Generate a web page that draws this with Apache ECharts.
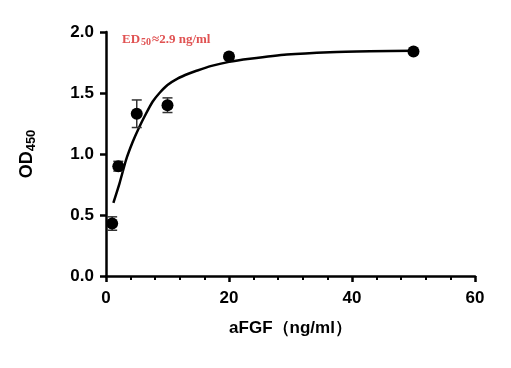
<!DOCTYPE html>
<html><head><meta charset="utf-8">
<script src="https://cdn.jsdelivr.net/npm/echarts@6/dist/echarts.min.js"></script>
<style>html,body{margin:0;padding:0;background:#fff}#c{width:511px;height:368px}</style>
</head><body><div id="c"></div>
<script>
const conc = [1, 2, 5, 10, 20, 50];
const odMean = [0.43, 0.90, 1.33, 1.40, 1.80, 1.84];
const odErr = [0.055, 0.04, 0.113, 0.06, 0.01, 0.01];
const fitX = [1.2, 2.2, 3.25, 4.35, 5.4, 6.5, 7.6, 8.7, 10.0, 11.7, 13.5, 14.6, 17.0, 20.0, 23.4, 29.4, 36.4, 42.9, 50];
const fitY = [0.60, 0.76, 0.95, 1.10, 1.22, 1.33, 1.43, 1.50, 1.565, 1.62, 1.66, 1.68, 1.72, 1.755, 1.78, 1.815, 1.835, 1.843, 1.847];
const xTicks = [0, 20, 40, 60];
const yTicks = [0, 0.5, 1.0, 1.5, 2.0];

const chart = echarts.init(document.getElementById('c'));
const axisFont = 'Liberation Sans, Arial, sans-serif';
chart.setOption({
  animation: false,
  grid: {left: 106, right: 36, top: 32, bottom: 92},
  xAxis: {
    type: 'value', min: xTicks[0], max: xTicks[xTicks.length-1], interval: 20,
    name: 'aFGF（ng/ml）', nameLocation: 'middle', nameGap: 44,
    nameTextStyle: {fontFamily: axisFont, fontWeight: 'bold', fontSize: 17, color: '#000'},
    axisLine: {lineStyle: {color: '#000', width: 2.5}},
    axisTick: {length: 6, lineStyle: {color: '#000', width: 2.5}},
    minorTick: {show: true, splitNumber: 5, length: 4, lineStyle: {color: '#000', width: 2}},
    axisLabel: {fontFamily: axisFont, fontWeight: 'bold', fontSize: 17, color: '#000', margin: 14},
    splitLine: {show: false}
  },
  yAxis: {
    type: 'value', min: yTicks[0], max: yTicks[yTicks.length-1], interval: 0.5,
    name: '{a|OD}{s|450}', nameLocation: 'middle', nameGap: 68, nameRotate: 90,
    nameTextStyle: {rich: {
      a: {fontFamily: axisFont, fontWeight: 'bold', fontSize: 18, color: '#000'},
      s: {fontFamily: axisFont, fontWeight: 'bold', fontSize: 13, color: '#000', verticalAlign: 'bottom', padding: [9,0,0,0]}
    }},
    axisLine: {lineStyle: {color: '#000', width: 2.5}},
    axisTick: {length: 6, lineStyle: {color: '#000', width: 2.5}},
    axisLabel: {fontFamily: axisFont, fontWeight: 'bold', fontSize: 17, color: '#000', margin: 12,
      formatter: v => v.toFixed(1)},
    splitLine: {show: false}
  },
  graphic: [{
    type: 'text', left: 122, top: 33,
    style: {
      text: '{a|ED}{s|50}{a|≈2.9 ng/ml}',
      rich: {
        a: {fontFamily: 'Liberation Serif, Times New Roman, serif', fontWeight: 'bold', fontSize: 13, fill: '#e05252'},
        s: {fontFamily: 'Liberation Serif, Times New Roman, serif', fontWeight: 'bold', fontSize: 10, fill: '#e05252', padding: [5,1,0,1]}
      }
    }
  }],
  series: [
    {
      type: 'line', data: fitX.map((x, i) => [x, fitY[i]]), smooth: 0.2, showSymbol: false,
      lineStyle: {color: '#000', width: 2.5}, z: 2
    },
    {
      type: 'custom', z: 3,
      data: conc.map((x, i) => [x, odMean[i] - odErr[i], odMean[i] + odErr[i]]),
      renderItem: (params, api) => {
        const lo = api.coord([api.value(0), api.value(1)]);
        const hi = api.coord([api.value(0), api.value(2)]);
        const w = 5;
        const st = {stroke: '#333', lineWidth: 1.5};
        return {type: 'group', children: [
          {type: 'line', shape: {x1: lo[0], y1: lo[1], x2: hi[0], y2: hi[1]}, style: st},
          {type: 'line', shape: {x1: lo[0]-w, y1: lo[1], x2: lo[0]+w, y2: lo[1]}, style: st},
          {type: 'line', shape: {x1: hi[0]-w, y1: hi[1], x2: hi[0]+w, y2: hi[1]}, style: st}
        ]};
      }
    },
    {
      type: 'scatter', data: conc.map((x, i) => [x, odMean[i]]), symbol: 'circle', symbolSize: 12,
      itemStyle: {color: '#000', opacity: 1}, z: 4
    }
  ]
});
</script></body></html>
